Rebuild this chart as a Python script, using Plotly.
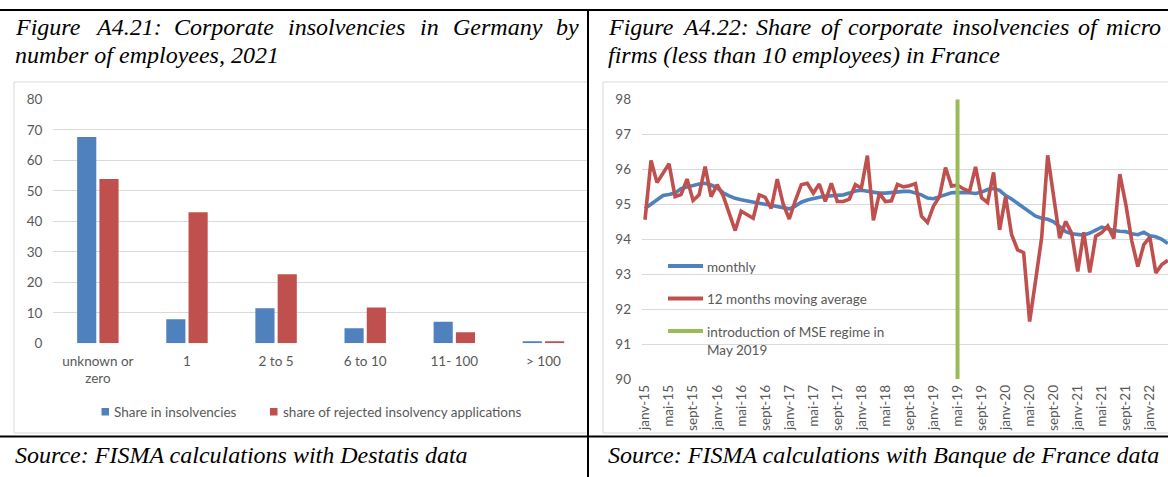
import plotly.graph_objects as go

W, H = 1168, 477

# ---------------------------------------------------------------------------
# Figure A4.21 - Germany 2021, corporate insolvencies by number of employees (%)
size_classes = ["unknown or<br>zero", "1", "2 to 5", "6 to 10", "11- 100", "> 100"]
share_insolvencies = [67.6, 7.9, 11.5, 4.9, 7.1, 0.7]
share_rejected = [53.9, 43.0, 22.6, 11.7, 3.6, 0.7]
bar_ticks = [0, 10, 20, 30, 40, 50, 60, 70, 80]

# ---------------------------------------------------------------------------
# Figure A4.22 - France, share of micro firms in corporate insolvencies (%)
fr_months = ["janv", "févr", "mars", "avr", "mai", "juin",
             "juil", "août", "sept", "oct", "nov", "déc"]
months = [f"{m}-{y:02d}" for y in range(15, 23) for m in fr_months][:88]

monthly = [
    94.88, 95.00, 95.12, 95.25, 95.28, 95.32, 95.45, 95.50, 95.55, 95.58,
    95.60, 95.55, 95.47, 95.33, 95.24, 95.17, 95.13, 95.09, 95.06, 95.03,
    95.00, 94.97, 94.94, 94.90, 94.87, 94.95, 95.06, 95.12, 95.17, 95.20,
    95.23, 95.24, 95.25, 95.27, 95.32, 95.38, 95.40, 95.37, 95.34, 95.32,
    95.32, 95.34, 95.36, 95.37, 95.37, 95.33, 95.27, 95.18, 95.16, 95.22,
    95.28, 95.33, 95.34, 95.34, 95.33, 95.31, 95.35, 95.42, 95.45, 95.40,
    95.25, 95.15, 95.03, 94.90, 94.78, 94.66, 94.60, 94.57, 94.50, 94.35,
    94.22, 94.16, 94.13, 94.12, 94.18, 94.27, 94.35, 94.30, 94.25, 94.23,
    94.22, 94.16, 94.13, 94.20, 94.10, 94.07, 94.00, 93.88,
]
moving_average = [
    94.56, 96.25, 95.62, 95.90, 96.16, 95.22, 95.28, 95.72, 95.11, 95.27,
    96.08, 95.22, 95.56, 95.25, 94.75, 94.25, 94.80, 94.70, 94.60, 95.27,
    95.20, 94.88, 95.72, 95.00, 94.58, 95.10, 95.56, 95.60, 95.32, 95.58,
    95.08, 95.60, 95.08, 95.08, 95.15, 95.56, 95.46, 96.39, 94.54, 95.32,
    95.08, 95.10, 95.57, 95.50, 95.53, 95.59, 94.66, 94.48, 94.95, 95.22,
    96.05, 95.52, 95.55, 95.44, 95.37, 96.07, 95.19, 95.05, 95.91, 94.27,
    95.22, 94.13, 93.70, 93.62, 91.65, 92.84, 94.05, 96.40, 95.20, 94.03,
    94.51, 94.17, 93.08, 94.20, 93.05, 94.09, 94.19, 94.38, 94.02, 95.86,
    95.00, 93.95, 93.22, 93.85, 94.06, 93.04, 93.28, 93.40,
]
mse_intro = "mai-19"
mse_span = [90, 98]
line_ticks = [90, 91, 92, 93, 94, 95, 96, 97, 98]

BLUE, RED, GREEN = "#4F81BD", "#C0504D", "#9BBB59"
GRID, TXT = "#D9D9D9", "#595959"
CHART_FONT = "Lato"
DOC_FONT = "Liberation Serif"


def px(x):
    return x / W


def py(y):
    return 1 - y / H


fig = go.Figure()

# bar chart (left)
fig.add_trace(go.Bar(x=size_classes, y=share_insolvencies, marker_color=BLUE,
                     xaxis="x", yaxis="y", showlegend=False))
fig.add_trace(go.Bar(x=size_classes, y=share_rejected, marker_color=RED,
                     xaxis="x", yaxis="y", showlegend=False))

# line chart (right)
fig.add_trace(go.Scatter(x=months, y=monthly, mode="lines",
                         line=dict(color=BLUE, width=3.6),
                         xaxis="x2", yaxis="y2", showlegend=False))
fig.add_trace(go.Scatter(x=months, y=moving_average, mode="lines",
                         line=dict(color=RED, width=3.6),
                         xaxis="x2", yaxis="y2", showlegend=False))
fig.add_trace(go.Scatter(x=[mse_intro, mse_intro], y=mse_span, mode="lines",
                         line=dict(color=GREEN, width=4),
                         xaxis="x2", yaxis="y2", showlegend=False))

tickfont = dict(family=CHART_FONT, size=13.5, color=TXT)
axis_common = dict(automargin=False, zeroline=False, showline=False, ticks="",
                   tickfont=tickfont)

fig.update_layout(
    template="none",
    width=W, height=H, autosize=False,
    margin=dict(l=0, r=0, t=0, b=0, pad=0, autoexpand=False),
    paper_bgcolor="white", plot_bgcolor="rgba(0,0,0,0)",
    showlegend=False,
    barmode="group", bargap=0.5, bargroupgap=0.14,
    xaxis=dict(domain=[px(53.3), px(588)], anchor="y", type="category",
               range=[-0.5, 5.5], showgrid=False, ticklabelstandoff=8,
               **axis_common),
    yaxis=dict(domain=[py(343.3), py(99.3)], anchor="x", range=[0, 80],
               tickvals=bar_ticks, showgrid=True, gridcolor=GRID, gridwidth=1,
               ticklabelstandoff=10, **axis_common),
    xaxis2=dict(domain=[px(642), 1], anchor="y2", type="category",
                categoryorder="array", categoryarray=months,
                range=[-0.5, 87.02], tickmode="array", tickvals=months[::4],
                ticktext=months[::4], tickangle=-90, showgrid=False,
                ticklabelstandoff=2, **axis_common),
    yaxis2=dict(domain=[py(379.3), py(99.3)], anchor="x2", range=[90, 98],
                tickvals=line_ticks, showgrid=True, gridcolor=GRID, gridwidth=1,
                ticklabelstandoff=10, **axis_common),
)

shapes = []
# chart frames
shapes.append(dict(type="rect", xref="paper", yref="paper", layer="below",
                   x0=px(14), x1=px(588), y0=py(433), y1=py(82),
                   line=dict(color=GRID, width=1), fillcolor="white"))
shapes.append(dict(type="rect", xref="paper", yref="paper", layer="below",
                   x0=px(603), x1=px(1180), y0=py(433), y1=py(82),
                   line=dict(color=GRID, width=1), fillcolor="white"))
# table rules
for x0, y0, x1, y1 in [(0, 10, W, 10), (588, 10, 588, H + 2), (0, 436.5, W, 436.5)]:
    shapes.append(dict(type="line", xref="paper", yref="paper", layer="above",
                       x0=px(x0), x1=px(x1), y0=py(y0), y1=py(y1),
                       line=dict(color="black", width=2)))

annotations = []
legend_font = dict(family=CHART_FONT, size=13.5, color=TXT)

# bar chart legend
for x_sw, x_txt, color, label in [(101.5, 112, BLUE, "Share in insolvencies"),
                                  (270, 281, RED, "share of rejected insolvency applications")]:
    shapes.append(dict(type="rect", xref="paper", yref="paper",
                       x0=px(x_sw), x1=px(x_sw + 7.5), y0=py(415.5), y1=py(408),
                       line=dict(width=0), fillcolor=color))
    annotations.append(dict(xref="paper", yref="paper", x=px(x_txt), y=py(412),
                            xanchor="left", yanchor="middle", showarrow=False,
                            text=label, font=legend_font))

# line chart legend
for y_row, color, label in [(266, BLUE, "monthly"),
                            (298.5, RED, "12 months moving average"),
                            (331, GREEN, "introduction of MSE regime in<br>May 2019")]:
    shapes.append(dict(type="line", xref="paper", yref="paper",
                       x0=px(668), x1=px(703), y0=py(y_row), y1=py(y_row),
                       line=dict(color=color, width=4)))
    annotations.append(dict(xref="paper", yref="paper", x=px(705),
                            y=py(y_row - 9.5), xanchor="left", yanchor="top",
                            align="left", showarrow=False, text=label,
                            font=legend_font))

# document captions (justified first lines placed word by word)
doc_font = dict(family=DOC_FONT, size=24, color="black", style="italic")


def caption_words(words, starts, y):
    for w, x in zip(words, starts):
        annotations.append(dict(xref="paper", yref="paper", x=px(x), y=py(y),
                                xanchor="left", yanchor="middle", showarrow=False,
                                text=w, font=doc_font))


caption_words(["Figure", "A4.21:", "Corporate", "insolvencies", "in", "Germany", "by"],
              [13, 92.6, 171.6, 285.9, 417.6, 450.6, 554.3], 27)
caption_words(["number of employees, 2021"], [13], 55)
caption_words(["Figure", "A4.22:", "Share", "of", "corporate", "insolvencies", "of", "micro"],
              [606, 680.2, 753.9, 818.8, 846.4, 950.1, 1076.3, 1104], 27)
caption_words(["firms (less than 10 employees) in France"], [606], 55)
caption_words(["Source: FISMA calculations with Destatis data"], [13], 455)
caption_words(["Source: FISMA calculations with Banque de France data"], [606], 455)

fig.update_layout(shapes=shapes, annotations=annotations)
fig.write_html("out.html",
               post_script="document.body.style.margin='0';"
                           "document.documentElement.style.overflow='hidden';")
